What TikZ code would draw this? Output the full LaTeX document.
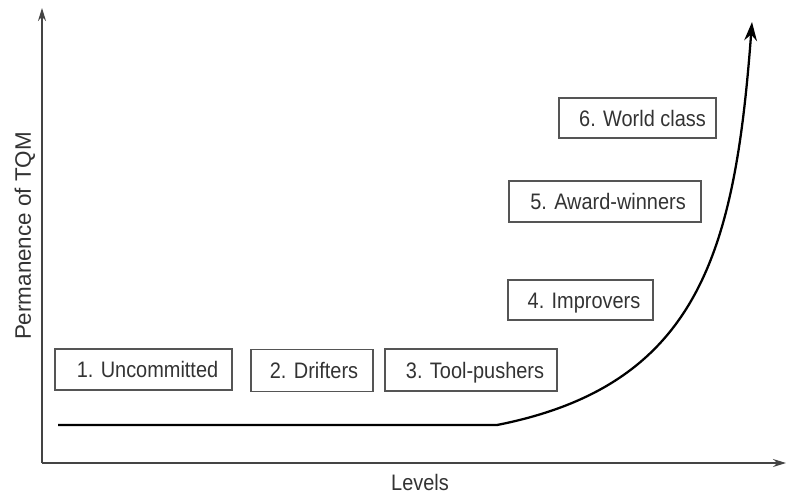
\documentclass[tikz,border=0pt]{standalone}
\usepackage{fontspec}
\setmainfont{Liberation Sans}
\newfontfamily\hfont[FakeStretch=0.89]{Liberation Sans}
\usetikzlibrary{arrows.meta}
\definecolor{txtgray}{HTML}{333333}
\definecolor{boxgray}{HTML}{555555}
\definecolor{axisgray}{HTML}{444444}
\begin{document}
\begin{tikzpicture}[x=0.75pt,y=-0.75pt,
  stagebox/.style={draw=boxgray, line width=1pt, inner sep=0pt, text=txtgray,
    text height=12pt, text depth=0pt,
    font=\hfont\fontsize{16.8}{20}\selectfont},
  axisline/.style={draw=axisgray, line width=1.1pt, -{Stealth[length=9.75pt,width=6pt]}},
  curveline/.style={draw=black, line width=1.7pt, -{Stealth[length=14pt,width=9.5pt]}},
  axislabel/.style={text=txtgray, inner sep=0pt}]
\useasboundingbox (0,0) rectangle (786,493);
% axes
\coordinate (o) at (42,463);
\coordinate (ytop) at (42,8);
\coordinate (xend) at (786,463);
\draw[axisline] (o) -- (ytop);
\draw[axisline] (o) -- (xend);
\node[axislabel, font=\hfont\fontsize{16.8}{20}\selectfont] (xl) at (420,482) {Levels};
\node[axislabel, rotate=90, font=\fontsize{16.8}{20}\selectfont] (yl) at (25,236) {Permanence of TQM};
% stage boxes
\node[stagebox, minimum width=132.75pt, minimum height=30.75pt] (b1) at (143.5,369.5) {\hspace{6pt}1. Uncommitted};
\node[stagebox, minimum width=91.5pt, minimum height=31.5pt] (b2) at (312,370.5) {\hspace{3pt}2. Drifters};
\node[stagebox, minimum width=129pt, minimum height=31.5pt] (b3) at (471,370) {\hspace{6pt}3. Tool-pushers};
\node[stagebox, minimum width=108.75pt, minimum height=30pt] (b4) at (580.5,300) {\hspace{5.25pt}4. Improvers};
\node[stagebox, minimum width=144pt, minimum height=30.75pt] (b5) at (605,201.5) {\hspace{4.5pt}5. Award-winners};
\node[stagebox, minimum width=117.75pt, minimum height=30pt] (b6) at (637.5,118) {\hspace{7.5pt}6. World class};
% curve
\coordinate (c0) at (58,425);
\coordinate (c1) at (497,425);
\coordinate (c2) at (752,22);
\draw[curveline] (c0) -- (c1) .. controls (700,385) and (735,250) .. (c2);
\end{tikzpicture}
\end{document}
